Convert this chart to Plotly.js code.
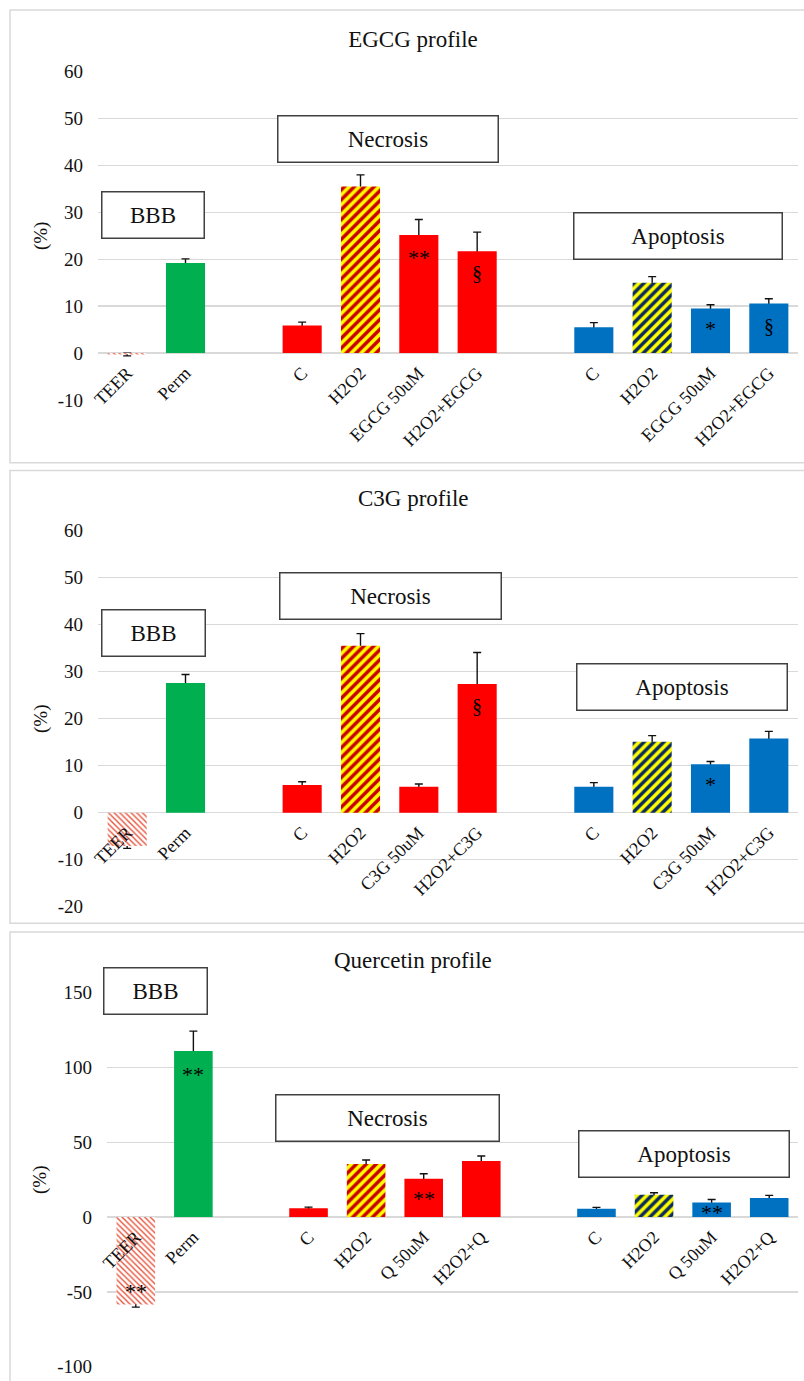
<!DOCTYPE html>
<html><head><meta charset="utf-8">
<script src="https://cdn.plot.ly/plotly-3.0.1.min.js"></script>
<style>html,body{margin:0;padding:0;background:#fff}</style>
</head><body><div id="chart" style="width:804px;height:1381px"></div>
<script>
// ---------------- DATA ----------------
const egcgLabels = ['TEER','Perm','','C','H2O2','EGCG 50uM','H2O2+EGCG','','C','H2O2','EGCG 50uM','H2O2+EGCG'];
const egcgValues = [-0.3, 19.2, null, 5.9, 35.5, 25.2, 21.7, null, 5.5, 15.0, 9.5, 10.6];
const egcgErrors = [0.3, 0.9, null, 0.7, 2.5, 3.3, 4.1, null, 1.0, 1.3, 0.8, 1.0];

const c3gLabels = ['TEER','Perm','','C','H2O2','C3G 50uM','H2O2+C3G','','C','H2O2','C3G 50uM','H2O2+C3G'];
const c3gValues = [-7.1, 27.6, null, 5.9, 35.5, 5.5, 27.4, null, 5.5, 15.1, 10.3, 15.8];
const c3gErrors = [0.5, 1.8, null, 0.7, 2.6, 0.6, 6.7, null, 0.9, 1.3, 0.6, 1.5];

const querLabels = ['TEER','Perm','','C','H2O2','Q 50uM','H2O2+Q','','C','H2O2','Q 50uM','H2O2+Q'];
const querValues = [-58.4, 111.0, null, 5.9, 35.5, 25.6, 37.5, null, 5.5, 15.0, 9.8, 12.7];
const querErrors = [1.8, 13.3, null, 0.8, 2.7, 3.4, 3.3, null, 1.0, 1.3, 2.0, 1.8];

const panelTitles = ['EGCG profile', 'C3G profile', 'Quercetin profile'];
const groupNames = ['BBB', 'Necrosis', 'Apoptosis'];

// significance marks: [slot, value-position, text]
const egcgMarks = [[5, 20.3, '**'], [6, 17.0, '§'], [10, 5.3, '*'], [11, 5.8, '§']];
const c3gMarks  = [[6, 22.8, '§'], [10, 5.9, '*']];
const querMarks = [[1, 95.4, '**'], [0, -50, '**'], [5, 12.2, '**'], [10, 3.1, '**']];

// ---------------- STYLE ----------------
const W = 804, H = 1381;
const FONT = 'Liberation Serif, Times New Roman, serif';
// style key of each slot (same for all three panels)
const slotStyle = ['teer','green','none','red','redHatch','red','red','none','blue','blueHatch','blue','blue'];
const styles = {
  teer:      {color: '#FFFFFF', pattern: {shape: '\\', fgcolor: '#E8553E', bgcolor: '#FFFFFF', size: 4, solidity: 0.35, fillmode: 'replace'}},
  green:     {color: '#00B050'},
  red:       {color: '#FF0000'},
  redHatch:  {color: '#C00000', pattern: {shape: '/', fgcolor: '#FFFF00', bgcolor: '#C80000', size: 7, solidity: 0.5, fillmode: 'replace'}},
  blue:      {color: '#0070C0'},
  blueHatch: {color: '#002060', pattern: {shape: '/', fgcolor: '#FFFF00', bgcolor: '#0A2A5E', size: 7, solidity: 0.5, fillmode: 'replace'}}
};

const px = x => x / W;
const py = y => 1 - y / H;

const panels = [
  {labels: egcgLabels, values: egcgValues, errors: egcgErrors, marks: egcgMarks,
   range: [-10, 60], dtick: 10, xpx: [98, 798], ypx: [400, 71.7], titleY: 38.5,
   boxes: [[153, 214.5, 101, 45], [388, 139, 219, 45], [678, 236, 207, 45]]},
  {labels: c3gLabels, values: c3gValues, errors: c3gErrors, marks: c3gMarks,
   range: [-20, 60], dtick: 10, xpx: [98, 798], ypx: [906.7, 530.7], titleY: 498.5,
   boxes: [[153.5, 633, 102, 45], [390.5, 596, 220, 45], [682, 686.5, 209, 45]]},
  {labels: querLabels, values: querValues, errors: querErrors, marks: querMarks,
   range: [-100, 150], dtick: 50, xpx: [107, 798], ypx: [1366.7, 992.7], titleY: 960,
   boxes: [[155.5, 991, 102, 45], [387.5, 1118, 222, 45], [684, 1153.5, 209, 45]]}
];

const traces = [];
const layout = {
  width: W, height: H,
  margin: {l: 0, r: 0, t: 0, b: 0},
  paper_bgcolor: '#FFFFFF', plot_bgcolor: 'rgba(0,0,0,0)',
  barmode: 'overlay', bargap: 0.33,
  showlegend: false,
  font: {family: FONT, color: '#111'},
  title: {text: panelTitles[0], x: px(413), xanchor: 'center', xref: 'container',
          y: py(panels[0].titleY), yanchor: 'middle', yref: 'container',
          font: {family: FONT, size: 23, color: '#111'}},
  annotations: [],
  shapes: []
};

[[10, 462.7], [470.5, 923.3], [932, 1400]].forEach(b => {
  layout.shapes.push({type: 'rect', xref: 'paper', yref: 'paper', layer: 'below',
    x0: px(10), x1: px(830), y0: py(b[1]), y1: py(b[0]),
    line: {color: '#D9D9D9', width: 1.5}, fillcolor: 'rgba(0,0,0,0)'});
});

panels.forEach((p, k) => {
  const n = k === 0 ? '' : String(k + 1);
  const no = String(k + 4);               // overlay axes holding the visible bars
  const xa = 'x' + n, ya = 'y' + n, xo = 'x' + no, yo = 'y' + no;
  const slots = p.labels.map((_, i) => i);
  const xdom = [px(p.xpx[0]), px(p.xpx[1])];
  const ydom = [py(p.ypx[0]), py(p.ypx[1])];
  const xr = [-0.5, p.labels.length - 0.5];
  const zeroPos = ydom[0] + (0 - p.range[0]) / (p.range[1] - p.range[0]) * (ydom[1] - ydom[0]);
  const yTicks = [];
  for (let v = p.range[0]; v <= p.range[1]; v += p.dtick) yTicks.push(v);

  // error bars (base subplot, drawn underneath the bars of the overlay subplot)
  traces.push({type: 'bar', x: slots, y: p.values, xaxis: xa, yaxis: ya,
    marker: {color: 'rgba(0,0,0,0)', line: {width: 0}},
    error_y: {type: 'data', array: p.errors, symmetric: true, color: '#111', thickness: 1.4, width: 4},
    hoverinfo: 'skip'});
  // visible bars, one trace per fill style
  Object.keys(styles).forEach(key => {
    const st = styles[key];
    const yv = p.values.map((v, i) => slotStyle[i] === key ? v : null);
    const marker = {color: st.color, line: {width: 0}};
    if (st.pattern) marker.pattern = st.pattern;
    traces.push({type: 'bar', x: slots, y: yv, xaxis: xo, yaxis: yo, marker: marker,
      hovertemplate: '%{y}<extra></extra>'});
  });

  layout['xaxis' + n] = {
    domain: xdom, anchor: 'free', position: zeroPos, range: xr,
    tickvals: slots, ticktext: p.labels, tickangle: -45,
    showgrid: false, zeroline: false, showline: false, ticks: '',
    tickfont: {family: FONT, size: 18, color: '#111'}, ticklabelstandoff: 5, fixedrange: true
  };
  layout['yaxis' + n] = {
    domain: ydom, anchor: xa, range: p.range,
    tickvals: yTicks, ticktext: yTicks.map(v => String(v)),
    showgrid: true, gridcolor: '#D9D9D9', gridwidth: 1.5,
    zeroline: true, zerolinecolor: '#D9D9D9', zerolinewidth: 1.5,
    showline: false, ticks: '', ticklabelstandoff: 14,
    tickfont: {family: FONT, size: 19, color: '#111'},
    title: {text: '(%)', standoff: 5, font: {family: FONT, size: 19, color: '#111'}},
    fixedrange: true
  };
  layout['xaxis' + no] = {overlaying: xa, anchor: yo, range: xr, visible: false, fixedrange: true};
  layout['yaxis' + no] = {overlaying: ya, anchor: xo, range: p.range, visible: false, fixedrange: true};

  if (k > 0) {
    layout.annotations.push({text: panelTitles[k], xref: 'paper', yref: 'paper',
      x: px(413), y: py(p.titleY), xanchor: 'center', yanchor: 'middle', showarrow: false,
      font: {family: FONT, size: 23, color: '#111'}});
  }
  p.boxes.forEach((b, j) => {
    layout.annotations.push({text: groupNames[j], xref: 'paper', yref: 'paper',
      x: px(b[0]), y: py(b[1]), xanchor: 'center', yanchor: 'middle', showarrow: false,
      width: b[2], height: b[3], borderpad: 0, borderwidth: 1.5, bordercolor: '#404040', bgcolor: '#FFFFFF',
      font: {family: FONT, size: 23, color: '#111'}});
  });
  p.marks.forEach(m => {
    layout.annotations.push({text: m[2], xref: xa, yref: ya, x: m[0], y: m[1],
      xanchor: 'center', yanchor: 'middle', showarrow: false,
      font: {family: FONT, size: m[2] === '§' ? 20 : 22, color: '#000'}});
  });
});

Plotly.newPlot('chart', traces, layout, {staticPlot: true, displayModeBar: false});
</script>
</body></html>
